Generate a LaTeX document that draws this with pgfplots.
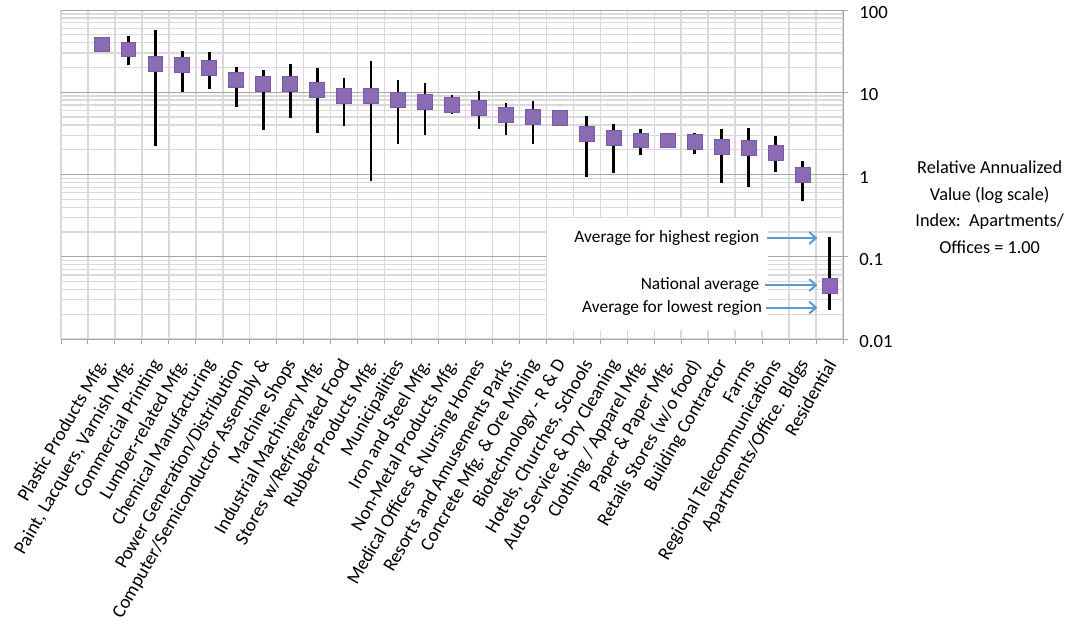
\documentclass[border=0pt]{standalone}
\usepackage{fontspec}
\setmainfont{Carlito}
\usepackage{pgfplots}
\usepackage{pgfplotstable}
\pgfplotsset{compat=1.18}
\usetikzlibrary{arrows.meta}
\definecolor{gridmaj}{HTML}{A6A6A6}
\definecolor{gridmin}{HTML}{D9D9D9}
\definecolor{mkfill}{HTML}{8B6CB4}
\definecolor{mkdraw}{HTML}{7A5BA3}
\definecolor{arrowblue}{HTML}{5B9BD5}
\newcommand\lblfont{\fontsize{14.2}{16}\selectfont}
\newcommand\tickfont{\fontsize{14}{16}\selectfont}
\newcommand\annfont{\fontsize{13}{15}\selectfont}

% national average per category
\pgfplotstableread{
x y
1 38.2
2 33.2
3 22.1
4 21.3
5 20.0
6 14.0
7 12.8
8 12.8
9 10.6
10 8.93
11 9.0
12 8.15
13 7.62
14 7.08
15 6.44
16 5.35
17 5.0
18 4.82
19 3.10
20 2.80
21 2.60
22 2.60
23 2.51
24 2.15
25 2.12
26 1.84
27 1.0
28 0.0443
}\avgdata

% lowest / highest region (segments separated by nan)
\pgfplotstableread{
x y
2 21.2
2 48.6
2 nan
3 2.21
3 57
3 nan
4 10.1
4 31.9
4 nan
5 11.1
5 30.7
5 nan
6 6.6
6 20.4
6 nan
7 3.44
7 18.4
7 nan
8 4.87
8 21.8
8 nan
9 3.22
9 19.6
9 nan
10 3.93
10 14.9
10 nan
11 0.845
11 24.3
11 nan
12 2.37
12 14.0
12 nan
13 2.99
13 12.8
13 nan
14 5.39
14 9.27
14 nan
15 3.61
15 10.3
15 nan
16 2.99
16 7.48
16 nan
17 2.37
17 7.83
17 nan
19 0.93
19 5.2
19 nan
20 1.04
20 4.15
20 nan
21 1.74
21 3.54
21 nan
23 1.79
23 3.19
23 nan
24 0.78
24 3.54
24 nan
25 0.70
25 3.64
25 nan
26 1.06
26 2.90
26 nan
27 0.47
27 1.48
27 nan
28 0.0226
28 0.175
}\rangedata

\begin{document}
\begin{tikzpicture}
\begin{axis}[
  at={(0,0)}, anchor=south west, name=ax,
  scale only axis, width=586.5pt, height=246.75pt,
  xmin=-0.5, xmax=28.5, ymin=0.01, ymax=100, ymode=log,
  axis x line*=bottom, axis y line*=right,
  axis line style={gridmaj, line width=0.75pt, -},
  xtick={-0.5,0.5,...,28.5}, xticklabels={},
  extra x ticks={1,...,28},
  extra x tick labels={
    Plastic Products Mfg.,
    {Paint,  Lacquers, Varnish Mfg.},
    Commercial Printing,
    Lumber-related Mfg.,
    Chemical Manufacturing,
    Power Generation/Distribution,
    Computer/Semiconductor Assembly \&,
    Machine Shops,
    Industrial Machinery Mfg.,
    Stores w/Refrigerated Food,
    Rubber Products Mfg.,
    Municipalities,
    Iron and Steel Mfg.,
    Non-Metal Products Mfg.,
    Medical Offices \& Nursing Homes,
    Resorts and Amusements Parks,
    Concrete Mfg. \& Ore Mining,
    Biotechnology - R \& D,
    {Hotels, Churches, Schools},
    Auto Service \& Dry Cleaning,
    Clothing / Apparel Mfg.,
    Paper \& Paper Mfg.,
    Retails Stores (w/o food),
    Building Contractor,
    Farms,
    Regional Telecommunications,
    Apartments/Office. Bldgs,
    Residential},
  extra x tick style={grid=none, major tick length=0pt,
    xticklabel style={xshift=1.5pt, yshift=-16.5pt, rotate=60, anchor=east, font=\lblfont, inner sep=0pt}},
  ytick={0.01,0.1,1,10,100}, yticklabels={0.01,0.1,1,10,100},
  tick align=outside, major tick length=3.75pt,
  tick style={gridmaj, line width=0.75pt},
  minor y tick style={draw=none},
  xmajorgrids, ymajorgrids, yminorgrids,
  major x grid style={gridmin, line width=1.1pt},
  major y grid style={gridmaj, line width=0.75pt},
  minor y grid style={gridmin, line width=1.1pt},
  yticklabel style={font=\tickfont, xshift=5pt, yshift=-2pt},
  /pgf/number format/assume math mode=true,
  unbounded coords=jump,
  clip=false,
]
% annotation box
\fill[white] (axis cs:17.52,0.299) rectangle (axis cs:25.71,0.0129);
\node[anchor=east, font=\annfont, inner sep=1pt] at (axis cs:25.45,0.169) {Average for highest region};
\node[anchor=east, font=\annfont, inner sep=1pt] at (axis cs:25.45,0.0452) {National average};
\node[anchor=east, font=\annfont, inner sep=1pt] at (axis cs:25.55,0.0241) {Average for lowest region};
\draw[arrowblue, line width=1.5pt, -{Straight Barb[length=5pt,width=9pt]}] (axis cs:25.68,0.169) -- (axis cs:27.55,0.169);
\draw[arrowblue, line width=1.5pt, -{Straight Barb[length=5pt,width=9pt]}] (axis cs:25.62,0.0452) -- (axis cs:27.55,0.0452);
\draw[arrowblue, line width=1.5pt, -{Straight Barb[length=5pt,width=9pt]}] (axis cs:25.65,0.0241) -- (axis cs:27.55,0.0241);

\addplot[black, line width=2pt, forget plot] table[x=x, y=y] {\rangedata};
\addplot[only marks, mark=square*, mark size=5.6pt,
  mark options={fill=mkfill, draw=mkdraw, line width=0.6pt}] table[x=x, y=y] {\avgdata};

\node[align=center, font=\fontsize{13.7}{20}\selectfont, xshift=110pt] at (rel axis cs:1,0.401)
  {Relative Annualized\\Value (log scale)\\Index:\ \ Apartments/\\Offices = 1.00};
\end{axis}
\pgfresetboundingbox
\path[use as bounding box] (-45.75pt,-216pt) rectangle (759pt,254.25pt);
\end{tikzpicture}
\end{document}
